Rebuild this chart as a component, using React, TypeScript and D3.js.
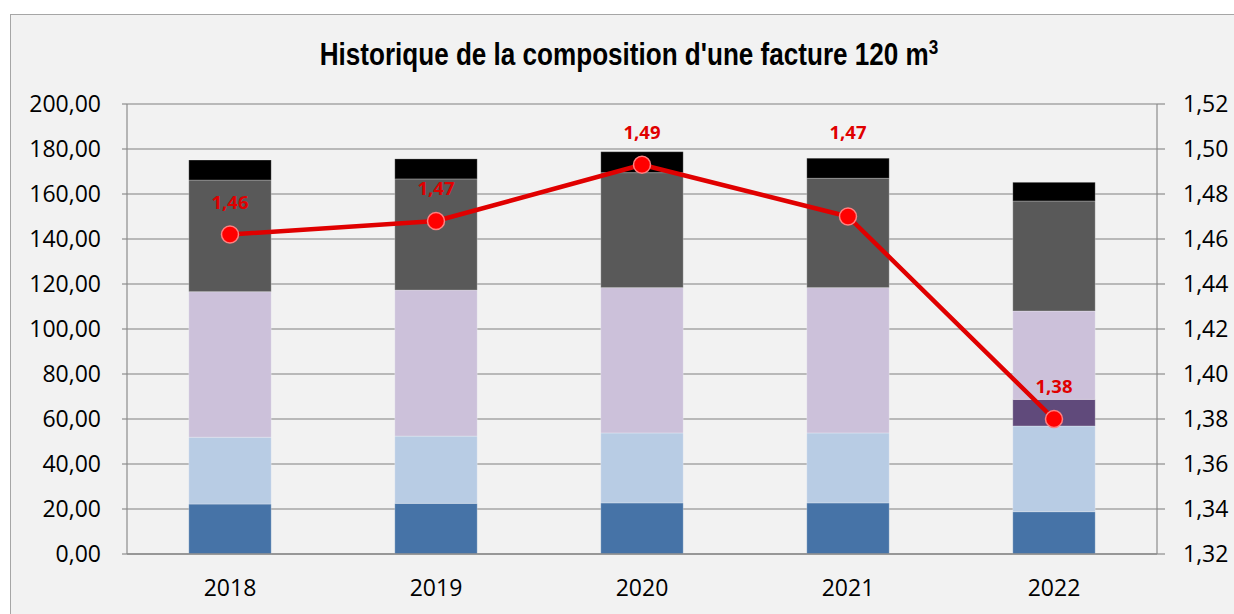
import React from "react";
import * as d3 from "d3";

const years = ["2018", "2019", "2020", "2021", "2022"];
const seriesNames = ["s1", "s2", "s3", "s4", "s5", "s6"];
const darkBlue = [22.2, 22.5, 22.7, 22.7, 18.8];
const lightBlue = [29.7, 29.9, 31.1, 31.1, 38.1];
const darkPurple = [0, 0, 0, 0, 11.8];
const lightPurple = [64.7, 64.9, 64.6, 64.6, 39.3];
const darkGray = [49.6, 49.4, 51.1, 48.6, 48.9];
const black = [8.9, 8.9, 9.3, 8.9, 8.3];
const pricePerM3 = [1.462, 1.468, 1.493, 1.47, 1.38];
const leftTicks = [0, 20, 40, 60, 80, 100, 120, 140, 160, 180, 200];
const rightTicks = [1.32, 1.34, 1.36, 1.38, 1.4, 1.42, 1.44, 1.46, 1.48, 1.5, 1.52];

const colors = ["#4673a7", "#b8cce4", "#604a7b", "#ccc1da", "#595959", "#000000"];
const FONT = "'Open Sans', 'DejaVu Sans', sans-serif";
const fmt = (v: number) => d3.format(".2f")(v).replace(".", ",");

export default function App() {
  const W = 1234, H = 614;
  const left = 127, right = 1157, top = 104, bottom = 554;
  const x = d3.scaleBand().domain(years).range([left, right]).paddingInner(0.6).paddingOuter(0.3);
  const y = d3.scaleLinear().domain([0, 200]).range([bottom, top]);
  const y2 = d3.scaleLinear().domain([1.32, 1.52]).range([bottom, top]);

  const table = years.map((yr, i) => ({
    year: yr,
    s1: darkBlue[i], s2: lightBlue[i], s3: darkPurple[i], s4: lightPurple[i], s5: darkGray[i], s6: black[i],
  }));
  const stack = d3.stack<any>().keys(seriesNames)(table);

  const line = d3.line<number>().x((_, i) => (x(years[i]) as number) + x.bandwidth() / 2).y((d) => y2(d));

  const labelShift: Record<string, number> = { "2021": -84 };

  return (
    <svg width={W} height={H} style={{ position: "absolute", left: 0, top: 0 }}>
      <rect x={0} y={0} width={W} height={H} fill="#ffffff" />
      <rect x={10.5} y={14.5} width={W + 20} height={H + 20} fill="#f2f2f2" stroke="#a6a6a6" strokeWidth={1} />
      <g transform="translate(629,65) scale(0.815,1)">
        <text x={0} y={0} textAnchor="middle" fontFamily="'Liberation Sans', Arial, sans-serif" fontWeight="bold" fontSize={32} fill="#000">
          Historique de la composition d'une facture 120 m<tspan dy={-11} fontSize={21}>3</tspan>
        </text>
      </g>
      {/* gridlines */}
      {leftTicks.map((t) => (
        <line key={"g" + t} x1={left} x2={right} y1={y(t)} y2={y(t)} stroke="#a6a6a6" strokeWidth={1.5} />
      ))}
      {/* left ticks */}
      {leftTicks.map((t) => (
        <g key={"l" + t}>
          <line x1={left - 5} x2={left} y1={y(t)} y2={y(t)} stroke="#8c8c8c" strokeWidth={1.2} />
          <text x={101} y={y(t)} dy="0.35em" textAnchor="end" fontFamily={FONT} fontSize={23} fill="#000">{fmt(t)}</text>
        </g>
      ))}
      {rightTicks.map((t) => (
        <g key={"r" + t}>
          <line x1={right} x2={right + 8} y1={y2(t)} y2={y2(t)} stroke="#8c8c8c" strokeWidth={1.2} />
          <text x={1183} y={y2(t)} dy="0.35em" textAnchor="start" fontFamily={FONT} fontSize={23} fill="#000">{fmt(t)}</text>
        </g>
      ))}
      {/* bars */}
      {stack.map((layer, li) => (
        <g key={layer.key} fill={colors[li]}>
          {layer.map((d, i) =>
            d[1] - d[0] > 0 ? (
              <rect key={i} x={x(years[i])} y={y(d[1])} width={x.bandwidth()} height={y(d[0]) - y(d[1])} stroke="rgba(255,255,255,0.25)" strokeWidth={1} />
            ) : null
          )}
        </g>
      ))}
      {/* axes lines */}
      <line x1={left} x2={left} y1={top} y2={bottom} stroke="#8c8c8c" strokeWidth={1.2} />
      <line x1={right} x2={right} y1={top} y2={bottom} stroke="#8c8c8c" strokeWidth={1.2} />
      <line x1={left} x2={right} y1={bottom} y2={bottom} stroke="#8c8c8c" strokeWidth={1.5} />
      {years.map((yr) => (
        <text key={"x" + yr} x={(x(yr) as number) + x.bandwidth() / 2} y={588} dy="0.35em" textAnchor="middle" fontFamily={FONT} fontSize={23} fill="#000">{yr}</text>
      ))}
      {/* line */}
      <path d={line(pricePerM3) || ""} fill="none" stroke="#e00000" strokeWidth={4.5} strokeLinejoin="round" />
      {pricePerM3.map((v, i) => {
        const cx = (x(years[i]) as number) + x.bandwidth() / 2;
        const cy = y2(v);
        return (
          <g key={"p" + i}>
            <circle cx={cx} cy={cy} r={8.5} fill="#ff0000" stroke="#ff8080" strokeWidth={1.5} />
            <text x={cx} y={cy + (labelShift[years[i]] ?? -32)} dy="0.35em" textAnchor="middle" fontFamily={FONT} fontWeight="bold" fontSize={18.5} fill="#e00000">{fmt(v)}</text>
          </g>
        );
      })}
    </svg>
  );
}
